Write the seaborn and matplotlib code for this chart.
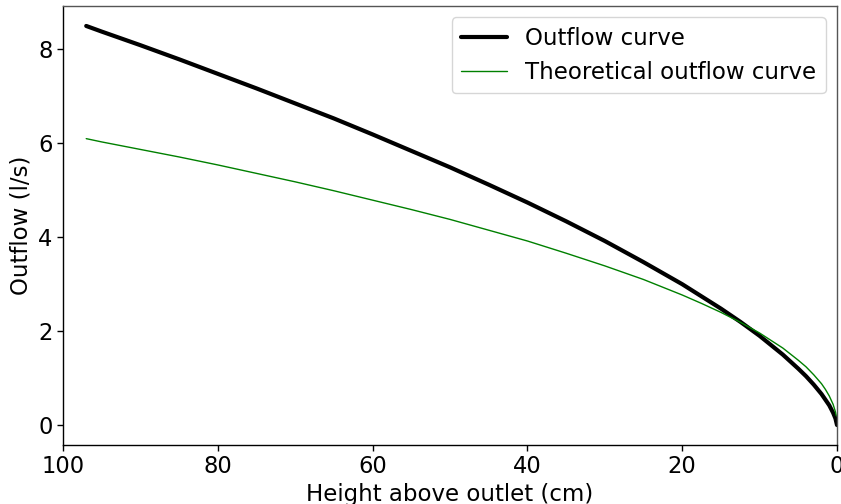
import matplotlib
matplotlib.use("Agg")
import matplotlib.pyplot as plt
import seaborn as sns
import pandas as pd

# Outflow curve (measured)
height_measured = [97, 95, 90, 85, 80, 75, 70, 65, 60, 55, 50, 45, 40, 35, 30, 25, 20, 17.5,
                   15, 12.5, 10, 7, 5, 4, 3, 2, 1.5, 1, 0.5, 0.2, 0]
outflow_measured = [8.50, 8.38, 8.09, 7.79, 7.48, 7.17, 6.85, 6.53, 6.19, 5.84, 5.49, 5.12,
                    4.74, 4.34, 3.92, 3.47, 3.00, 2.74, 2.48, 2.20, 1.90, 1.50, 1.20, 1.04,
                    0.86, 0.66, 0.54, 0.42, 0.26, 0.14, 0.0]

# Theoretical outflow curve
height_theory = [97, 95, 90, 85, 80, 75, 70, 65, 60, 55, 50, 45, 40, 35, 30, 25, 20, 17.5,
                 15, 12.5, 10, 7, 5, 4, 3, 2, 1.5, 1, 0.5, 0.2, 0.1]
outflow_theory = [6.10, 6.03, 5.87, 5.71, 5.54, 5.36, 5.18, 4.99, 4.79, 4.59, 4.38, 4.15,
                  3.92, 3.66, 3.39, 3.10, 2.77, 2.59, 2.40, 2.19, 1.96, 1.64, 1.38, 1.24,
                  1.07, 0.88, 0.76, 0.62, 0.44, 0.28, 0.20]

x_ticks = [100, 80, 60, 40, 20, 0]
y_ticks = [0, 2, 4, 6, 8]

df_m = pd.DataFrame({"h": height_measured, "q": outflow_measured})
df_t = pd.DataFrame({"h": height_theory, "q": outflow_theory})

sns.set_style("white")
plt.rcParams["font.family"] = ["DejaVu Sans"]
for key in ["text.color", "axes.labelcolor", "xtick.color", "ytick.color"]:
    plt.rcParams[key] = "black"

fig = plt.figure(figsize=(8.41, 5.04), dpi=100)
ax = fig.add_axes([63 / 841, 1 - 445 / 504, (837 - 63) / 841, (445 - 6) / 504])

sns.lineplot(data=df_m, x="h", y="q", ax=ax, color="black", linewidth=3,
             label="Outflow curve", sort=False, estimator=None)
sns.lineplot(data=df_t, x="h", y="q", ax=ax, color="green", linewidth=1,
             label="Theoretical outflow curve", sort=False, estimator=None)

ax.set_xlim(100, 0)
ax.set_ylim(-0.425, 8.925)
ax.set_xticks(x_ticks)
ax.set_yticks(y_ticks)
ax.tick_params(axis="both", labelsize=16.3, length=4, width=1, direction="out",
               bottom=True, left=True, color="black", labelcolor="black")
ax.set_xlabel("Height above outlet (cm)", fontsize=16.5, labelpad=3, color="black")
ax.set_ylabel("Outflow (l/s)", fontsize=16.5, color="black")

for side in ["left", "bottom"]:
    ax.spines[side].set_color("black")
    ax.spines[side].set_linewidth(1)
for side in ["top", "right"]:
    ax.spines[side].set_color("#555555")
    ax.spines[side].set_linewidth(1)

leg = ax.legend(loc="upper right", fontsize=16.5, frameon=True, framealpha=0.8,
                edgecolor="#cccccc", fancybox=True)
for t in leg.get_texts():
    t.set_color("black")

fig.savefig("out.png", dpi=100)
